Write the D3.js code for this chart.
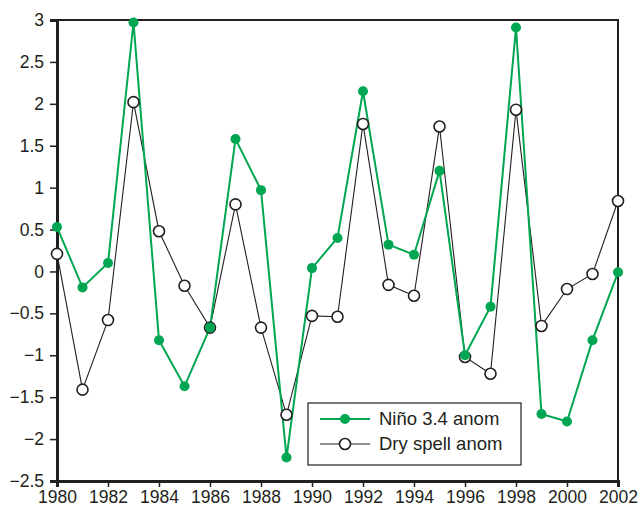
<!DOCTYPE html>
<html lang="en">
<head>
    <meta charset="utf-8">
    <title>Nino vs dry spell</title>
    <script src="https://cdn.jsdelivr.net/npm/d3@7"></script>
    <style>
        body { margin: 0; background: #fff; }
        svg { display: block; font-family: "Liberation Sans", Arial, sans-serif; }
        .tick text { fill: #231f20; font-size: 17.5px; }
    </style>
</head>
<body>
    <svg width="638" height="512"></svg>
    <script>
        // data
        var years = d3.range(1980, 2003);
        var ninoAnom = [0.53, -0.19, 0.1, 2.97, -0.82, -1.37, -0.67, 1.58, 0.97, -2.22, 0.04, 0.4,
            2.15, 0.32, 0.2, 1.2, -1.0, -0.42, 2.91, -1.7, -1.79, -0.82, -0.01];
        var drySpellAnom = [0.21, -1.41, -0.58, 2.02, 0.48, -0.17, -0.67, 0.8, -0.67, -1.71, -0.53, -0.54,
            1.76, -0.16, -0.29, 1.73, -1.02, -1.22, 1.93, -0.65, -0.21, -0.03, 0.84];
        var xTicks = d3.range(1980, 2003, 2);
        var yTicks = d3.range(-2.5, 3.01, 0.5);

        var padL = 57, padR = 618, padT = 20, padB = 481;
        var green = "#00a651", ink = "#231f20";

        var svg = d3.select("svg");
        var x = d3.scaleLinear().domain([1980, 2002]).range([padL, padR]);
        var y = d3.scaleLinear().domain([-2.5, 3]).range([padB, padT]);

        // frame: thin top/right, heavier left/bottom
        svg.append("path")
            .attr("d", "M" + padL + "," + padT + "H" + padR + "V" + padB)
            .attr("fill", "none").attr("stroke", ink).attr("stroke-width", 2);

        var fmt = function (d) { return String(+d.toFixed(1)).replace("-", "\u2212"); };

        var yAxis = svg.append("g")
            .attr("transform", "translate(" + padL + ",0)")
            .call(d3.axisLeft(y).tickValues(yTicks).tickSize(7).tickPadding(6).tickFormat(fmt));
        var xAxis = svg.append("g")
            .attr("transform", "translate(0," + padB + ")")
            .call(d3.axisBottom(x).tickValues(xTicks).tickSize(6).tickPadding(4).tickFormat(d3.format("d")));
        [yAxis, xAxis].forEach(function (g) {
            g.attr("font-family", null).attr("font-size", null);
            g.select(".domain").attr("stroke", ink).attr("stroke-width", 3);
            g.selectAll(".tick line").attr("stroke", ink).attr("stroke-width", 1.5);
        });

        var line = function (vals) {
            return d3.line().x(function (d, i) { return x(years[i]); }).y(function (d) { return y(d); })(vals);
        };

        svg.append("path").attr("d", line(drySpellAnom))
            .attr("fill", "none").attr("stroke", ink).attr("stroke-width", 1.1);
        svg.append("path").attr("d", line(ninoAnom))
            .attr("fill", "none").attr("stroke", green).attr("stroke-width", 2);

        svg.selectAll("circle.dry").data(drySpellAnom).enter().append("circle")
            .attr("class", "dry")
            .attr("cx", function (d, i) { return x(years[i]); })
            .attr("cy", function (d) { return y(d); })
            .attr("r", 5.5).attr("fill", "#fff").attr("stroke", ink).attr("stroke-width", 1.6);
        svg.selectAll("circle.nino").data(ninoAnom).enter().append("circle")
            .attr("class", "nino")
            .attr("cx", function (d, i) { return x(years[i]); })
            .attr("cy", function (d) { return y(d); })
            .attr("r", 5).attr("fill", green);

        // legend
        var leg = svg.append("g").attr("transform", "translate(308,403)");
        leg.append("rect").attr("width", 213).attr("height", 62)
            .attr("fill", "#fff").attr("stroke", ink).attr("stroke-width", 1.2);
        var items = [
            { label: "Niño 3.4 anom", color: green, w: 2, fill: green, stroke: "none" },
            { label: "Dry spell anom", color: ink, w: 1.1, fill: "#fff", stroke: ink }
        ];
        items.forEach(function (it, i) {
            var cy = 16 + i * 25;
            leg.append("line").attr("x1", 12).attr("x2", 62).attr("y1", cy).attr("y2", cy)
                .attr("stroke", it.color).attr("stroke-width", it.w);
            leg.append("circle").attr("cx", 37).attr("cy", cy).attr("r", it.stroke === "none" ? 5 : 5.5)
                .attr("fill", it.fill).attr("stroke", it.stroke).attr("stroke-width", 1.6);
            leg.append("text").attr("x", 71).attr("y", cy).attr("dy", "0.35em")
                .attr("fill", ink).attr("font-size", 18.5).text(it.label);
        });
    </script>
</body>
</html>
